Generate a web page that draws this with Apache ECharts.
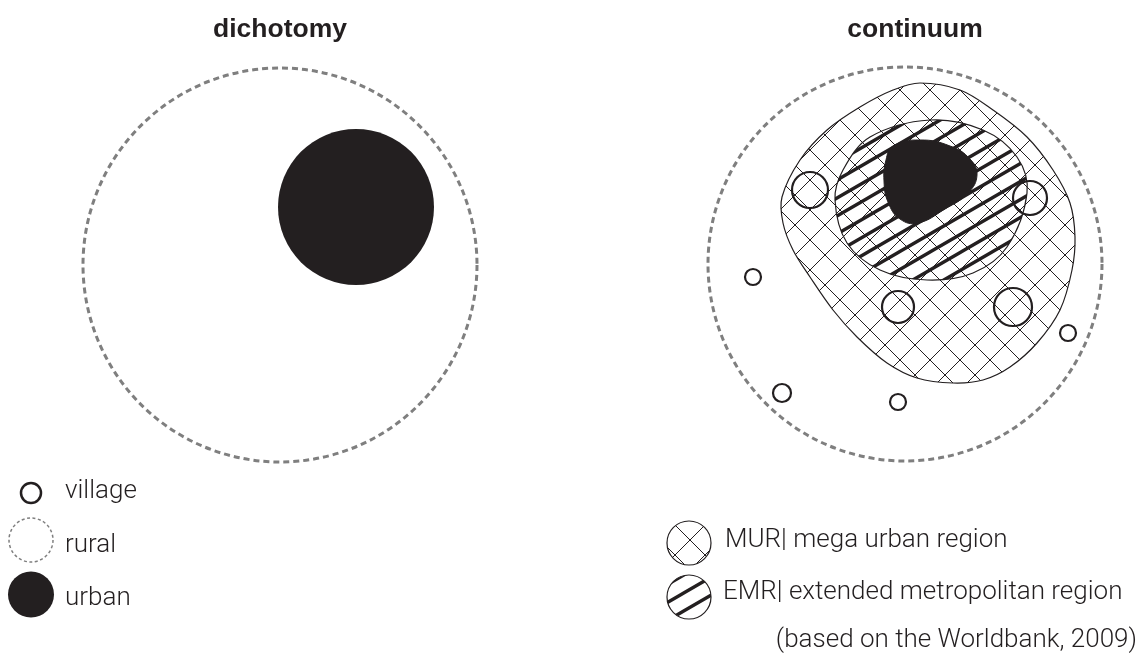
<!DOCTYPE html>
<html>
<head>
<meta charset="utf-8">
<script src="https://cdn.jsdelivr.net/npm/echarts@6/dist/echarts.min.js"></script>
<style>
html, body { margin: 0; padding: 0; background: #fff; }
#main { width: 1141px; height: 657px; }
</style>
</head>
<body>
<div id="main"></div>
<script>
// panel titles and legend texts
var panelTitles = ['dichotomy', 'continuum'];
var leftLegend = ['village', 'rural', 'urban'];
var rightLegend = ['MUR| mega urban region', 'EMR| extended metropolitan region'];
var sourceNote = '(based on the Worldbank, 2009)';

// rural areas (dashed circles): left panel, right panel
var ruralX = [280, 905];
var ruralY = [265, 264];
var ruralR = [197, 197];

// urban core (dichotomy)
var urbanX = [356];
var urbanY = [207];
var urbanR = [78];

// villages (continuum)
var villageX = [810, 1030, 898, 1013, 753, 1068, 782, 898];
var villageY = [190, 198, 307, 307, 277, 333, 393, 402];
var villageR = [18, 17, 16, 19, 8, 8, 9, 8];

// mega urban region outline
var murX = [920, 960, 993, 1027, 1053, 1070, 1075, 1072, 1060, 1037, 1010, 983, 953, 917, 887, 857, 833, 810, 793, 783, 782, 800, 827, 860, 893];
var murY = [83, 90, 110, 137, 170, 203, 237, 270, 310, 343, 367, 380, 383, 378, 363, 337, 310, 277, 250, 223, 197, 160, 130, 107, 90];

// extended metropolitan region outline
var emrX = [930, 983, 1017, 1027, 1007, 973, 927, 880, 847, 835, 843, 870];
var emrY = [120, 130, 157, 193, 247, 273, 280, 270, 243, 200, 170, 137];

// urban core blob (continuum)
var coreX = [893, 920, 950, 970, 977, 968, 945, 918, 900, 888, 884, 886];
var coreY = [146, 140, 146, 159, 175, 193, 209, 223, 219, 202, 181, 160];

var INK = '#231f20';
var GREY = '#7f7f7f';

function crossTile(s) {
    var c = document.createElement('canvas');
    c.width = s; c.height = s;
    var ctx = c.getContext('2d');
    ctx.strokeStyle = INK;
    ctx.lineWidth = 1;
    ctx.beginPath();
    for (var k = -1; k <= 1; k++) {
        ctx.moveTo(-s, -s + k * s); ctx.lineTo(2 * s, 2 * s + k * s);
        ctx.moveTo(-s, 2 * s + k * s); ctx.lineTo(2 * s, -s + k * s);
    }
    ctx.stroke();
    return c;
}
function hatchTile(w, h, lw) {
    var c = document.createElement('canvas');
    c.width = w; c.height = h;
    var ctx = c.getContext('2d');
    ctx.strokeStyle = INK;
    ctx.lineWidth = lw;
    ctx.beginPath();
    for (var k = -1; k <= 1; k++) {
        ctx.moveTo(-w, 2 * h + k * h); ctx.lineTo(2 * w, -h + k * h);
    }
    ctx.stroke();
    return c;
}
var crossFill = { image: crossTile(30), repeat: 'repeat' };
var hatchFill = { image: hatchTile(31, 18, 3.4), repeat: 'repeat' };

function circleSeries(xs, ys, rs, style) {
    return {
        type: 'custom',
        coordinateSystem: 'cartesian2d',
        silent: true,
        data: xs.map(function (x, i) { return [x, ys[i], rs[i]]; }),
        renderItem: function (params, api) {
            var c = api.coord([api.value(0), api.value(1)]);
            var s = api.size([api.value(2), api.value(2)]);
            return { type: 'circle', shape: { cx: c[0], cy: c[1], r: s[0] }, style: style };
        }
    };
}
function shapeSeries(xs, ys, style, smooth) {
    return {
        type: 'custom',
        coordinateSystem: 'cartesian2d',
        silent: true,
        data: [[xs[0], ys[0]]],
        renderItem: function (params, api) {
            var pts = xs.map(function (x, i) { return api.coord([x, ys[i]]); });
            return { type: 'polygon', shape: { points: pts, smooth: smooth }, style: style };
        }
    };
}

var bodyFont = '300 26px Roboto, "Liberation Sans", sans-serif';
var titleFont = 'bold 26.5px "Liberation Sans", Arial, sans-serif';
function txt(t, x, y, font, align) {
    return { type: 'text', x: x, y: y, silent: true,
        style: { text: t, font: font, fill: INK, align: align || 'left', verticalAlign: 'middle' } };
}

var myChart = echarts.init(document.getElementById('main'));
myChart.setOption({
    animation: false,
    grid: { left: 0, right: 0, top: 0, bottom: 0 },
    xAxis: { type: 'value', min: 0, max: 1141, show: false },
    yAxis: { type: 'value', min: 0, max: 657, inverse: true, show: false },
    series: [
        circleSeries(ruralX, ruralY, ruralR, { fill: 'none', stroke: GREY, lineWidth: 3, lineDash: [6, 4] }),
        shapeSeries(murX, murY, { fill: crossFill, stroke: INK, lineWidth: 1.2 }, 0.35),
        shapeSeries(emrX, emrY, { fill: hatchFill, stroke: INK, lineWidth: 1.2 }, 0.35),
        shapeSeries(coreX, coreY, { fill: INK, stroke: INK, lineWidth: 1 }, 0.45),
        circleSeries(villageX, villageY, villageR, { fill: 'none', stroke: INK, lineWidth: 2.2 }),
        circleSeries(urbanX, urbanY, urbanR, { fill: INK }),
        // legend symbols
        circleSeries([31], [493], [10], { fill: 'none', stroke: INK, lineWidth: 2.5 }),
        circleSeries([31], [540], [22], { fill: 'none', stroke: GREY, lineWidth: 1.5, lineDash: [3, 2.5] }),
        circleSeries([31], [594.5], [23], { fill: INK }),
        circleSeries([689], [543], [22], { fill: crossFill, stroke: INK, lineWidth: 1.2 }),
        circleSeries([689], [597], [22], { fill: hatchFill, stroke: INK, lineWidth: 1.2 })
    ],
    graphic: [
        txt(panelTitles[0], 280, 30, titleFont, 'center'),
        txt(panelTitles[1], 915, 30, titleFont, 'center'),
        txt(leftLegend[0], 65, 491, bodyFont),
        txt(leftLegend[1], 65, 545, bodyFont),
        txt(leftLegend[2], 65, 598, bodyFont),
        txt(rightLegend[0], 725, 540, bodyFont),
        txt(rightLegend[1], 723, 592, bodyFont),
        txt(sourceNote, 1137, 640, bodyFont, 'right')
    ]
});
</script>
</body>
</html>
